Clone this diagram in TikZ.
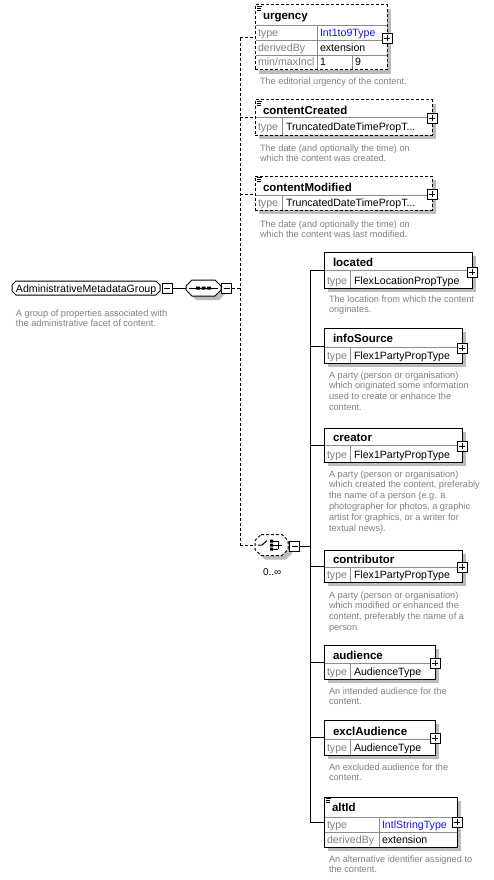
\documentclass[tikz,border=0pt]{standalone}
\usepackage{fontspec}
\setmainfont{Liberation Sans}
\definecolor{shadowc}{RGB}{188,188,188}
\definecolor{sepc}{RGB}{140,140,140}
\definecolor{labc}{RGB}{128,128,128}
\definecolor{bluec}{RGB}{20,20,255}
\definecolor{descc}{RGB}{128,128,128}
\newcommand\fTi{\fontsize{11.5}{13}\selectfont\bfseries}
\newcommand\fRo{\fontsize{10.6}{12}\selectfont}
\newcommand\fDe{\fontsize{9.2}{10.8}\selectfont}
\newcommand\octpath[2]{([xshift=#2]#1.north west) -- ([xshift=-#2]#1.north east) -- ([yshift=-#2]#1.north east) -- ([yshift=#2]#1.south east) -- ([xshift=-#2]#1.south east) -- ([xshift=#2]#1.south west) -- ([yshift=#2]#1.south west) -- ([yshift=-#2]#1.north west) -- cycle}
\newcommand\shadowrect[4]{\fill[shadowc] (#1+4,#2+4) rectangle (#3+4,#4+4);}
\tikzset{
  elbox/.style={draw,fill=white,anchor=north west,inner sep=0pt,outer sep=0pt,line width=1pt},
  optbox/.style={elbox,dash pattern=on 3pt off 2pt},
  sepl/.style={draw=sepc,line width=1pt},
  dline/.style={line width=1pt,dash pattern=on 3pt off 2pt},
  sline/.style={line width=1pt},
  ttl/.style={anchor=base west,inner sep=0pt,outer sep=0pt,font=\fTi},
  lab/.style={anchor=base west,inner sep=0pt,outer sep=0pt,font=\fRo,text=labc},
  val/.style={anchor=base west,inner sep=0pt,outer sep=0pt,font=\fRo},
  dsc/.style={anchor=base west,inner sep=0pt,outer sep=0pt,font=\fDe,text=descc},
  plusbox/.style={draw,fill=white,minimum size=10pt,inner sep=0pt,line width=0.9pt,
    path picture={\draw[line width=0.9pt] ([xshift=2pt]path picture bounding box.west) -- ([xshift=-2pt]path picture bounding box.east) ([yshift=-2pt]path picture bounding box.north) -- ([yshift=2pt]path picture bounding box.south);}},
  minusbox/.style={draw,fill=white,minimum size=10pt,inner sep=0pt,line width=0.9pt,
    path picture={\draw[line width=0.9pt] ([xshift=2pt]path picture bounding box.west) -- ([xshift=-2pt]path picture bounding box.east);}},
  holder/.style={inner sep=0pt,outer sep=0pt,shape=rectangle},
  icon/.style={line width=0.8pt}
}
\begin{document}
\begin{tikzpicture}[x=1pt,y=-1pt,line width=1pt]
\useasboundingbox (0,0) rectangle (493,880);
\fill[white] (0,0) rectangle (493,880);

% ---------- left group ----------
\node[holder,minimum width=148pt,minimum height=14pt] (admin) at (86,288) {};
\draw[fill=white,line width=1pt] \octpath{admin}{4pt};
\node[val] (admin-t) at (16,292) {AdministrativeMetadataGroup};
\node[minusbox] (admin-m) at (167,288) {};
\node[dsc] (admin-d1) at (16,316) {A group of properties associated with};
\node[dsc] (admin-d2) at (16,326.8) {the administrative facet of content.};

% sequence
\node[holder,minimum width=35pt,minimum height=16pt] (seq-sh) at (207.5,292) {};
\fill[shadowc] \octpath{seq-sh}{6pt};
\node[holder,minimum width=35pt,minimum height=16pt] (seq) at (203.5,288) {};
\draw[fill=white,line width=1pt] \octpath{seq}{6pt};
\draw[sline] ([xshift=3pt]seq.west) -- ([xshift=-3pt]seq.east);
\fill (196,286.5) rectangle (200,289.5) (201.5,286.5) rectangle (205.5,289.5) (207,286.5) rectangle (211,289.5);
\node[minusbox] (seq-m) at (226.5,288) {};
\draw[sline] (admin-m.east) -- (seq.west);

% dashed bus
\coordinate (bT) at (240,38);
\coordinate (bS) at (240,288);
\coordinate (bB) at (240,545);
\draw[dline] (bT) -- (bB);
\draw[dline] (seq-m.east) -- (bS);

% ---------- urgency ----------
\shadowrect{255}{5}{387}{70}
\node[optbox,minimum width=132pt,minimum height=65pt] (urgency) at (255,5) {};
\draw[sepl] (255.5,26) -- (386.5,26) (255.5,41) -- (386.5,41) (255.5,55.5) -- (386.5,55.5) (317,26) -- (317,69.5) (352,55.5) -- (352,69.5);
\draw[icon] (256.5,6.3) -- (262,6.3) (256.5,8.3) -- (261,8.3) (256.5,10.3) -- (261,10.3);
\node[ttl] (urgency-t) at (263,20) {urgency};
\node[lab] (urgency-l1) at (258,37) {type};
\node[val,text=bluec] (urgency-v1) at (320,37) {Int1to9Type};
\node[lab] (urgency-l2) at (258,51.5) {derivedBy};
\node[val] (urgency-v2) at (320,51.5) {extension};
\node[lab] (urgency-l3) at (258,66) {min/maxIncl};
\node[val] (urgency-v3) at (320,66) {1};
\node[val] (urgency-v4) at (355,66) {9};
\node[plusbox] (urgency-p) at (387,38.5) {};
\node[dsc] (urgency-d1) at (260,85) {The editorial urgency of the content.};
\draw[dline] (bT) -- (bT -| urgency.west);

% ---------- contentCreated ----------
\shadowrect{255}{100}{432}{135}
\node[optbox,minimum width=177pt,minimum height=35pt] (cc) at (255,100) {};
\draw[sepl] (255.5,118) -- (431.5,118) (282,118) -- (282,134.5);
\draw[icon] (256.5,101.3) -- (262,101.3) (256.5,103.3) -- (261,103.3) (256.5,105.3) -- (261,105.3);
\node[ttl] (cc-t) at (263,115) {contentCreated};
\node[lab] (cc-l1) at (258,131) {type};
\node[val] (cc-v1) at (286,131) {TruncatedDateTimePropT...};
\node[plusbox] (cc-p) at (432,118) {};
\node[dsc] (cc-d1) at (260,151) {The date (and optionally the time) on};
\node[dsc] (cc-d2) at (260,161.8) {which the content was created.};
\coordinate (bC) at (240,118);
\draw[dline] (bC) -- (bC -| cc.west);

% ---------- contentModified ----------
\shadowrect{255}{176}{432}{210}
\node[optbox,minimum width=177pt,minimum height=34pt] (cm) at (255,176) {};
\draw[sepl] (255.5,195) -- (431.5,195) (282,195) -- (282,209.5);
\draw[icon] (256.5,177.3) -- (262,177.3) (256.5,179.3) -- (261,179.3) (256.5,181.3) -- (261,181.3);
\node[ttl] (cm-t) at (263,191) {contentModified};
\node[lab] (cm-l1) at (258,206) {type};
\node[val] (cm-v1) at (286,206) {TruncatedDateTimePropT...};
\node[plusbox] (cm-p) at (432,194) {};
\node[dsc] (cm-d1) at (260,227) {The date (and optionally the time) on};
\node[dsc] (cm-d2) at (260,237.8) {which the content was last modified.};
\coordinate (bM) at (240,194);
\draw[dline] (bM) -- (bM -| cm.west);

% ---------- choice ----------
\node[holder,minimum width=33pt,minimum height=21pt] (cho-sh) at (275.5,549) {};
\fill[shadowc] \octpath{cho-sh}{6pt};
\node[holder,minimum width=33pt,minimum height=21pt] (cho) at (271.5,545) {};
\draw[fill=white,dline] \octpath{cho}{6pt};
\draw[sline] (258,545) -- (262,545) -- (267,540.5);
\fill (270,539.5) rectangle (273,542.5) (270,543.5) rectangle (273,546.5) (270,547.5) rectangle (273,550.5);
\draw[line width=0.8pt] (273,541) -- (278,541) (273,545) -- (282,545) (273,549) -- (278,549) (278,541) -- (278,549);
\node[minusbox] (cho-m) at (294.5,546) {};
\node[val] (cho-n) at (263,575) {\fontsize{10}{12}\selectfont 0..∞};
\draw[dline] (bB) -- (cho.west);
\coordinate (vT) at (310,270);
\coordinate (vB) at (310,822);
\coordinate (vC) at (310,546);
\draw[sline] (cho-m.east) -- (vC);
\draw[sline] (vT) -- (vB);

% ---------- located ----------
\shadowrect{324}{252}{472}{288}
\node[elbox,minimum width=148pt,minimum height=36pt] (loc) at (324,252) {};
\draw[sepl] (324.5,270) -- (471.5,270) (350,270) -- (350,287.5);
\node[ttl] (loc-t) at (333,266) {located};
\node[lab] (loc-l1) at (327,284) {type};
\node[val] (loc-v1) at (354,284) {FlexLocationPropType};
\node[plusbox] (loc-p) at (472,272) {};
\node[dsc] (loc-d1) at (329,302) {The location from which the content};
\node[dsc] (loc-d2) at (329,312.8) {originates.};
\draw[sline] (vT) -- (vT -| loc.west);

% ---------- infoSource ----------
\shadowrect{324}{328}{462}{363}
\node[elbox,minimum width=138pt,minimum height=35pt] (inf) at (324,328) {};
\draw[sepl] (324.5,347) -- (461.5,347) (350,347) -- (350,362.5);
\node[ttl] (inf-t) at (333,342.5) {infoSource};
\node[lab] (inf-l1) at (327,359) {type};
\node[val] (inf-v1) at (354,359) {Flex1PartyPropType};
\node[plusbox] (inf-p) at (462,348) {};
\node[dsc] (inf-d1) at (329,378) {A party (person or organisation)};
\node[dsc] (inf-d2) at (329,388.8) {which originated some information};
\node[dsc] (inf-d3) at (329,399.6) {used to create or enhance the};
\node[dsc] (inf-d4) at (329,410.4) {content.};
\coordinate (vI) at (310,346);
\draw[sline] (vI) -- (vI -| inf.west);

% ---------- creator ----------
\shadowrect{324}{428}{462}{462}
\node[elbox,minimum width=138pt,minimum height=34pt] (cre) at (324,428) {};
\draw[sepl] (324.5,445) -- (461.5,445) (350,445) -- (350,461.5);
\node[ttl] (cre-t) at (333,441.5) {creator};
\node[lab] (cre-l1) at (327,458) {type};
\node[val] (cre-v1) at (354,458) {Flex1PartyPropType};
\node[plusbox] (cre-p) at (462,446) {};
\node[dsc] (cre-d1) at (329,477) {A party (person or organisation)};
\node[dsc] (cre-d2) at (329,487.8) {which created the content, preferably};
\node[dsc] (cre-d3) at (329,498.6) {the name of a person (e.g. a};
\node[dsc] (cre-d4) at (329,509.4) {photographer for photos, a graphic};
\node[dsc] (cre-d5) at (329,520.2) {artist for graphics, or a writer for};
\node[dsc] (cre-d6) at (329,531) {textual news).};
\coordinate (vR) at (310,445);
\draw[sline] (vR) -- (vR -| cre.west);

% ---------- contributor ----------
\shadowrect{324}{550}{462}{582}
\node[elbox,minimum width=138pt,minimum height=32pt] (con) at (324,550) {};
\draw[sepl] (324.5,567) -- (461.5,567) (350,567) -- (350,581.5);
\node[ttl] (con-t) at (333,563.5) {contributor};
\node[lab] (con-l1) at (327,578.5) {type};
\node[val] (con-v1) at (354,578.5) {Flex1PartyPropType};
\node[plusbox] (con-p) at (462,567) {};
\node[dsc] (con-d1) at (329,598) {A party (person or organisation)};
\node[dsc] (con-d2) at (329,608.8) {which modified or enhanced the};
\node[dsc] (con-d3) at (329,619.6) {content, preferably the name of a};
\node[dsc] (con-d4) at (329,630.4) {person.};
\coordinate (vN) at (310,566);
\draw[sline] (vN) -- (vN -| con.west);

% ---------- audience ----------
\shadowrect{324}{645}{435}{679}
\node[elbox,minimum width=111pt,minimum height=34pt] (aud) at (324,645) {};
\draw[sepl] (324.5,663) -- (434.5,663) (350,663) -- (350,678.5);
\node[ttl] (aud-t) at (333,659.5) {audience};
\node[lab] (aud-l1) at (327,675) {type};
\node[val] (aud-v1) at (354,675) {AudienceType};
\node[plusbox] (aud-p) at (435,663) {};
\node[dsc] (aud-d1) at (329,694) {An intended audience for the};
\node[dsc] (aud-d2) at (329,704.8) {content.};
\coordinate (vA) at (310,662);
\draw[sline] (vA) -- (vA -| aud.west);

% ---------- exclAudience ----------
\shadowrect{324}{720}{435}{755}
\node[elbox,minimum width=111pt,minimum height=35pt] (exc) at (324,720) {};
\draw[sepl] (324.5,739) -- (434.5,739) (350,739) -- (350,754.5);
\node[ttl] (exc-t) at (333,735) {exclAudience};
\node[lab] (exc-l1) at (327,751) {type};
\node[val] (exc-v1) at (354,751) {AudienceType};
\node[plusbox] (exc-p) at (435,738) {};
\node[dsc] (exc-d1) at (329,770) {An excluded audience for the};
\node[dsc] (exc-d2) at (329,780.8) {content.};
\coordinate (vE) at (310,737.5);
\draw[sline] (vE) -- (vE -| exc.west);

% ---------- altId ----------
\shadowrect{324}{797}{457}{847}
\node[elbox,minimum width=133pt,minimum height=50pt] (alt) at (324,797) {};
\draw[sepl] (324.5,817) -- (456.5,817) (324.5,832) -- (456.5,832) (379,817) -- (379,846.5);
\draw[icon] (325.5,798.3) -- (331,798.3) (325.5,800.3) -- (330,800.3) (325.5,802.3) -- (330,802.3);
\node[ttl] (alt-t) at (332,811.5) {altId};
\node[lab] (alt-l1) at (327,828) {type};
\node[val,text=bluec] (alt-v1) at (382,828) {IntlStringType};
\node[lab] (alt-l2) at (327,843) {derivedBy};
\node[val] (alt-v2) at (382,843) {extension};
\node[plusbox] (alt-p) at (457,822) {};
\node[dsc] (alt-d1) at (329,862) {An alternative identifier assigned to};
\node[dsc] (alt-d2) at (329,872.8) {the content.};
\draw[sline] (vB) -- (vB -| alt.west);
\end{tikzpicture}
\end{document}
